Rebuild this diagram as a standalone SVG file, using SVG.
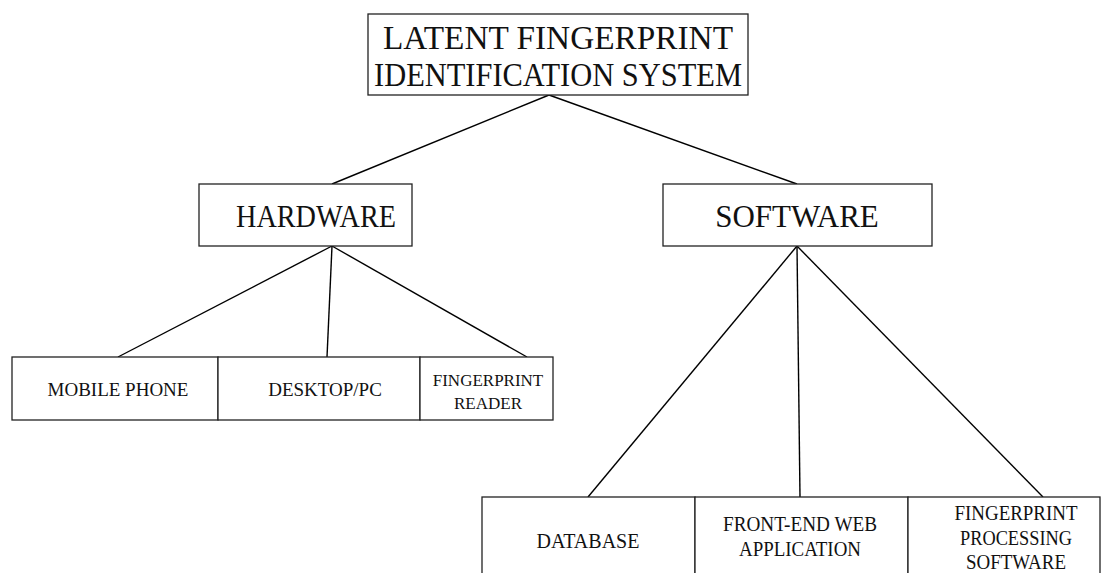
<svg xmlns="http://www.w3.org/2000/svg" width="1109" height="573" viewBox="0 0 1109 573">
  <style>
    .box { fill: #ffffff; stroke: #222222; stroke-width: 1.3; }
    .edge { stroke: #000000; stroke-width: 1.4; fill: none; }
    text { font-family: "Liberation Serif", "Times New Roman", serif; fill: #111111; text-anchor: middle; }
    .t-lg { font-size: 33px; }
    .t-md { font-size: 31px; }
    .t-sm { font-size: 19px; }
    .t-xs { font-size: 17px; }
    .t-br { font-size: 20px; }
  </style>
  <rect width="1109" height="573" fill="#ffffff"/>

  <g id="connectors">
    <line class="edge" x1="549" y1="95" x2="332" y2="184"/>
    <line class="edge" x1="549" y1="95" x2="797" y2="184"/>
    <line class="edge" x1="332" y1="246" x2="118" y2="357"/>
    <line class="edge" x1="332" y1="246" x2="327" y2="357"/>
    <line class="edge" x1="332" y1="246" x2="527" y2="357"/>
    <line class="edge" x1="797" y1="246" x2="588" y2="497"/>
    <line class="edge" x1="797" y1="246" x2="800" y2="497"/>
    <line class="edge" x1="797" y1="246" x2="1043" y2="497"/>
  </g>

  <g id="root">
    <rect class="box" x="368" y="14" width="380" height="81"/>
    <text class="t-lg" x="558" y="49" textLength="350" lengthAdjust="spacingAndGlyphs">LATENT FINGERPRINT</text>
    <text class="t-lg" x="558" y="86" textLength="368" lengthAdjust="spacingAndGlyphs">IDENTIFICATION SYSTEM</text>
  </g>

  <g id="hardware">
    <rect class="box" x="199" y="184" width="213" height="62"/>
    <text class="t-md" x="316" y="227" textLength="160" lengthAdjust="spacingAndGlyphs">HARDWARE</text>
  </g>

  <g id="software">
    <rect class="box" x="663" y="184" width="269" height="62"/>
    <text class="t-md" x="797" y="227">SOFTWARE</text>
  </g>

  <g id="mobile-phone">
    <rect class="box" x="12" y="357" width="206" height="63"/>
    <text class="t-sm" x="118" y="396">MOBILE PHONE</text>
  </g>
  <g id="desktop-pc">
    <rect class="box" x="218" y="357" width="202" height="63"/>
    <text class="t-sm" x="325" y="396">DESKTOP/PC</text>
  </g>
  <g id="fingerprint-reader">
    <rect class="box" x="420" y="357" width="133" height="63"/>
    <text class="t-xs" x="488" y="386">FINGERPRINT</text>
    <text class="t-xs" x="488" y="409">READER</text>
  </g>

  <g id="database">
    <rect class="box" x="482" y="497" width="213" height="90"/>
    <text class="t-br" x="588" y="548">DATABASE</text>
  </g>
  <g id="front-end-web-application">
    <rect class="box" x="695" y="497" width="213" height="90"/>
    <text class="t-br" x="800" y="531" textLength="154" lengthAdjust="spacingAndGlyphs">FRONT-END WEB</text>
    <text class="t-br" x="800" y="556" textLength="122" lengthAdjust="spacingAndGlyphs">APPLICATION</text>
  </g>
  <g id="fingerprint-processing-software">
    <rect class="box" x="908" y="497" width="192" height="90"/>
    <text class="t-br" x="1016" y="520" textLength="123" lengthAdjust="spacingAndGlyphs">FINGERPRINT</text>
    <text class="t-br" x="1016" y="545" textLength="112" lengthAdjust="spacingAndGlyphs">PROCESSING</text>
    <text class="t-br" x="1016" y="569" textLength="100" lengthAdjust="spacingAndGlyphs">SOFTWARE</text>
  </g>
</svg>
